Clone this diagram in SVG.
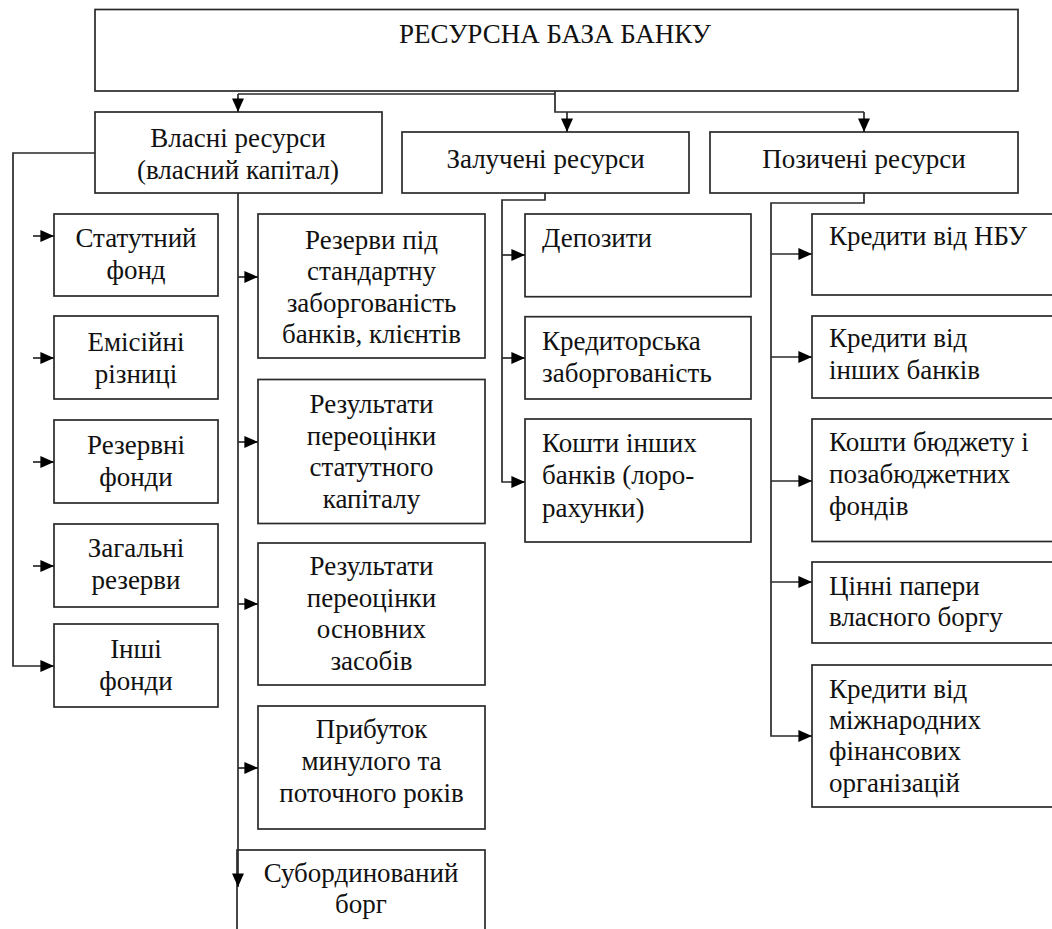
<svg xmlns="http://www.w3.org/2000/svg" width="1052" height="929" viewBox="0 0 1052 929">
<style>
rect{fill:#fff;stroke:#2a2a2a;stroke-width:1.7}
text{font-family:"Liberation Serif","Times New Roman","DejaVu Serif",serif;font-size:27px;fill:#111}
.c{text-anchor:middle}
.l{text-anchor:start}
.ln{fill:none;stroke:#2a2a2a;stroke-width:1.7}
.ar{fill:none;stroke:#2a2a2a;stroke-width:1.7;marker-end:url(#ah)}
</style>
<defs>
<marker id="ah" viewBox="0 0 10 10" markerUnits="strokeWidth" markerWidth="8" markerHeight="7" refX="10" refY="5" orient="auto" preserveAspectRatio="none">
<path d="M0,0 L10,5 L0,10 z" fill="#000"/>
</marker>
</defs>
<rect x="0" y="0" width="1052" height="929" style="stroke:none"/>

<g id="root"><rect x="95" y="9.5" width="923" height="81.5"/><text class="c" x="555" y="43">РЕСУРСНА БАЗА БАНКУ</text></g>

<g id="own"><rect x="95" y="112" width="287" height="81"/><text class="c" x="238" y="147">Власні ресурси</text><text class="c" x="238" y="179">(власний капітал)</text></g>
<g id="attracted"><rect x="402" y="132" width="287" height="61"/><text class="c" x="545.5" y="168">Залучені ресурси</text></g>
<g id="borrowed"><rect x="710" y="132" width="308" height="61"/><text class="c" x="864" y="168">Позичені ресурси</text></g>

<g id="statutory"><rect x="54" y="214" width="164" height="82"/><text class="c" x="136" y="247">Статутний</text><text class="c" x="136" y="279">фонд</text></g>
<g id="emission"><rect x="54" y="316" width="164" height="83"/><text class="c" x="136" y="350.5">Емісійні</text><text class="c" x="136" y="382.5">різниці</text></g>
<g id="reservefunds"><rect x="54" y="420" width="164" height="83"/><text class="c" x="136" y="454">Резервні</text><text class="c" x="136" y="486">фонди</text></g>
<g id="generalreserves"><rect x="54" y="524" width="164" height="83"/><text class="c" x="136" y="557">Загальні</text><text class="c" x="136" y="589">резерви</text></g>
<g id="otherfunds"><rect x="54" y="624" width="164" height="83"/><text class="c" x="136" y="657.5">Інші</text><text class="c" x="136" y="689.5">фонди</text></g>

<g id="provisions"><rect x="258" y="214" width="227" height="144"/><text class="c" x="371.5" y="248.5">Резерви під</text><text class="c" x="371.5" y="280">стандартну</text><text class="c" x="371.5" y="311.5">заборгованість</text><text class="c" x="371.5" y="343">банків, клієнтів</text></g>
<g id="revalcapital"><rect x="258" y="379.5" width="227" height="144"/><text class="c" x="371.5" y="413">Результати</text><text class="c" x="371.5" y="444.5">переоцінки</text><text class="c" x="371.5" y="476">статутного</text><text class="c" x="371.5" y="507.5">капіталу</text></g>
<g id="revalassets"><rect x="258" y="543" width="227" height="142"/><text class="c" x="371.5" y="575">Результати</text><text class="c" x="371.5" y="606.7">переоцінки</text><text class="c" x="371.5" y="638">основних</text><text class="c" x="371.5" y="670">засобів</text></g>
<g id="profit"><rect x="258" y="706" width="227" height="123"/><text class="c" x="371.5" y="738">Прибуток</text><text class="c" x="371.5" y="770">минулого та</text><text class="c" x="371.5" y="801.5">поточного років</text></g>
<g id="subdebt"><rect x="237" y="850" width="248" height="100"/><text class="c" x="361" y="881.7">Субординований</text><text class="c" x="361" y="913">борг</text></g>

<g id="deposits"><rect x="525" y="214" width="226" height="82.7"/><text class="l" x="542" y="246.7">Депозити</text></g>
<g id="payables"><rect x="525" y="316.7" width="226" height="82.3"/><text class="l" x="542" y="350">Кредиторська</text><text class="l" x="542" y="381.7">заборгованість</text></g>
<g id="loro"><rect x="525" y="419" width="226" height="123"/><text class="l" x="542" y="451.7">Кошти інших</text><text class="l" x="542" y="484">банків (лоро-</text><text class="l" x="542" y="516.7">рахунки)</text></g>

<g id="nbu"><rect x="812" y="214" width="260" height="81"/><text class="l" x="829" y="245">Кредити від НБУ</text></g>
<g id="otherbanks"><rect x="812" y="316" width="260" height="82"/><text class="l" x="829" y="347">Кредити від</text><text class="l" x="829" y="379">інших банків</text></g>
<g id="budget"><rect x="812" y="419" width="260" height="122.5"/><text class="l" x="829" y="451">Кошти бюджету і</text><text class="l" x="829" y="483">позабюджетних</text><text class="l" x="829" y="515">фондів</text></g>
<g id="securities"><rect x="812" y="562" width="260" height="81"/><text class="l" x="829" y="595">Цінні папери</text><text class="l" x="829" y="626">власного боргу</text></g>
<g id="intl"><rect x="812" y="665" width="260" height="142"/><text class="l" x="829" y="698">Кредити від</text><text class="l" x="829" y="729">міжнародних</text><text class="l" x="829" y="760">фінансових</text><text class="l" x="829" y="792">організацій</text></g>

<g id="connectors">
<path class="ln" d="M238,94 H555 M555,91 V112 H864"/>
<path class="ar" d="M238,94 V112"/>
<path class="ar" d="M567,112 V132"/>
<path class="ar" d="M864,112 V132"/>
<path class="ar" d="M95,153 H13 V666 H54"/>
<path class="ar" d="M33,236 H54"/>
<path class="ar" d="M33,358 H54"/>
<path class="ar" d="M33,462 H54"/>
<path class="ar" d="M33,566 H54"/>
<path class="ar" d="M238,193 V887"/>
<path class="ar" d="M238,277 H258"/>
<path class="ar" d="M238,442 H258"/>
<path class="ar" d="M238,604 H258"/>
<path class="ar" d="M238,768 H258"/>
<path class="ar" d="M545,193 V200 H502 V482 H525"/>
<path class="ar" d="M502,255 H525"/>
<path class="ar" d="M502,358 H525"/>
<path class="ar" d="M864,193 V203 H771 V736 H812"/>
<path class="ar" d="M771,254 H812"/>
<path class="ar" d="M771,357 H812"/>
<path class="ar" d="M771,481 H812"/>
<path class="ar" d="M771,582 H812"/>
</g>
</svg>
